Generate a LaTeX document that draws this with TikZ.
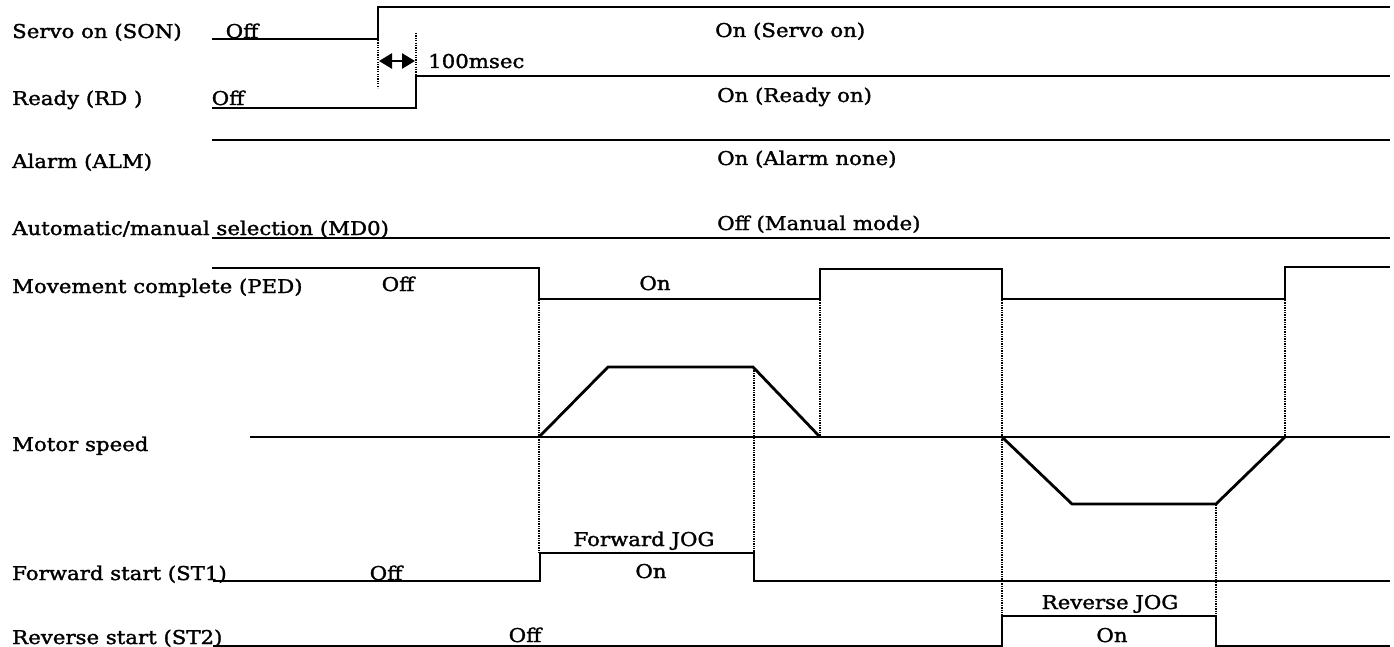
\documentclass[tikz,border=0pt]{standalone}
\usepackage{fontspec}
\setmainfont{DejaVu Serif}[FakeStretch=1.12, FakeBold=1.6]
\usetikzlibrary{arrows.meta}
\begin{document}
\begin{tikzpicture}[x=1pt,y=-1pt,
  sig/.style={line width=2.8pt, line join=miter},
  dotline/.style={line width=1.6pt, dash pattern=on 1.3pt off 1.1pt},
  lbl/.style={anchor=base west, inner sep=0pt, font=\fontsize{19}{22}\selectfont},
  ann/.style={anchor=base, inner sep=0pt, font=\fontsize{19}{22}\selectfont},
  annl/.style={anchor=base west, inner sep=0pt, font=\fontsize{19}{22}\selectfont},
  dblarrow/.style={line width=2.6pt, {Triangle[length=13pt,width=15pt]}-{Triangle[length=13pt,width=15pt]}}]
\fill[white] (0,0) rectangle (1394,647);
\useasboundingbox (0,0) rectangle (1394,647);

% ---- row labels ----
\node[lbl] (lson) at (12,38) {Servo on (SON)};
\node[lbl] (lrd)  at (12,105) {Ready (RD )};
\node[lbl] (lalm) at (12,168) {Alarm (ALM)};
\node[lbl] (lmd)  at (12,235) {Automatic/manual selection (MD0)};
\node[lbl] (lped) at (12,293) {Movement complete (PED)};
\node[lbl] (lmot) at (12,451) {Motor speed};
\node[lbl] (lst1) at (12,580) {Forward start (ST1)};
\node[lbl] (lst2) at (12,644) {Reverse start (ST2)};

% ---- SON ----
\draw[sig] (212,39) -- (378,39) -- (378,7) -- (1390,7);
\node[ann] (sonoff) at (242,38) {Off};
\node[annl] (sonon) at (715,37) {On (Servo on)};

% ---- RD ----
\draw[sig] (212,108) -- (416,108) -- (416,76) -- (1390,76);
\node[ann] (rdoff) at (228,105) {Off};
\node[annl] (rdon) at (717,102) {On (Ready on)};

% 100 msec delay
\coordinate (da) at (378,40);
\coordinate (db) at (378,88);
\coordinate (dc) at (416,33);
\coordinate (dd) at (416,76);
\draw[dotline] (da) -- (db);
\draw[dotline] (dc) -- (dd);
\coordinate (aa) at (379,61);
\coordinate (ab) at (415,61);
\draw[dblarrow] (aa) -- (ab);
\node[annl] (ms) at (428,68) {100msec};

% ---- ALM ----
\draw[sig] (212,140) -- (1390,140);
\node[annl] (almon) at (717,165) {On (Alarm none)};

% ---- MD0 ----
\draw[sig] (212,238) -- (1390,238);
\node[annl] (mdoff) at (717,230) {Off (Manual mode)};

% ---- PED ----
\draw[sig] (212,268) -- (539,268) -- (539,299) -- (820,299) -- (820,269)
  -- (1002,269) -- (1002,299) -- (1285,299) -- (1285,267) -- (1390,267);
\node[ann] (pedoff) at (398,291) {Off};
\node[ann] (pedon) at (655,290) {On};

% ---- Motor speed ----
\draw[sig] (250,437) -- (1390,437);
\draw[sig] (539,437) -- (608,367) -- (753,367) -- (820,437);
\draw[sig] (1002,437) -- (1072,504) -- (1216,504) -- (1285,437);

% ---- ST1 ----
\draw[sig] (213,581) -- (540,581) -- (540,553) -- (754,553) -- (754,581) -- (1390,581);
\node[ann] (st1off) at (386,580) {Off};
\node[ann] (fjog) at (644,546) {Forward JOG};
\node[ann] (st1on) at (651,578) {On};

% ---- ST2 ----
\draw[sig] (213,646) -- (1002,646) -- (1002,616) -- (1216,616) -- (1216,646) -- (1390,646);
\node[ann] (st2off) at (525,642) {Off};
\node[ann] (rjog) at (1110,609) {Reverse JOG};
\node[ann] (st2on) at (1112,642) {On};

% ---- dotted timing guides ----
\draw[dotline] (539,300) -- (539,553);
\draw[dotline] (754,368) -- (754,553);
\draw[dotline] (820,300) -- (820,437);
\draw[dotline] (1002,300) -- (1002,616);
\draw[dotline] (1216,505) -- (1216,616);
\draw[dotline] (1285,300) -- (1285,437);
\end{tikzpicture}
\end{document}
